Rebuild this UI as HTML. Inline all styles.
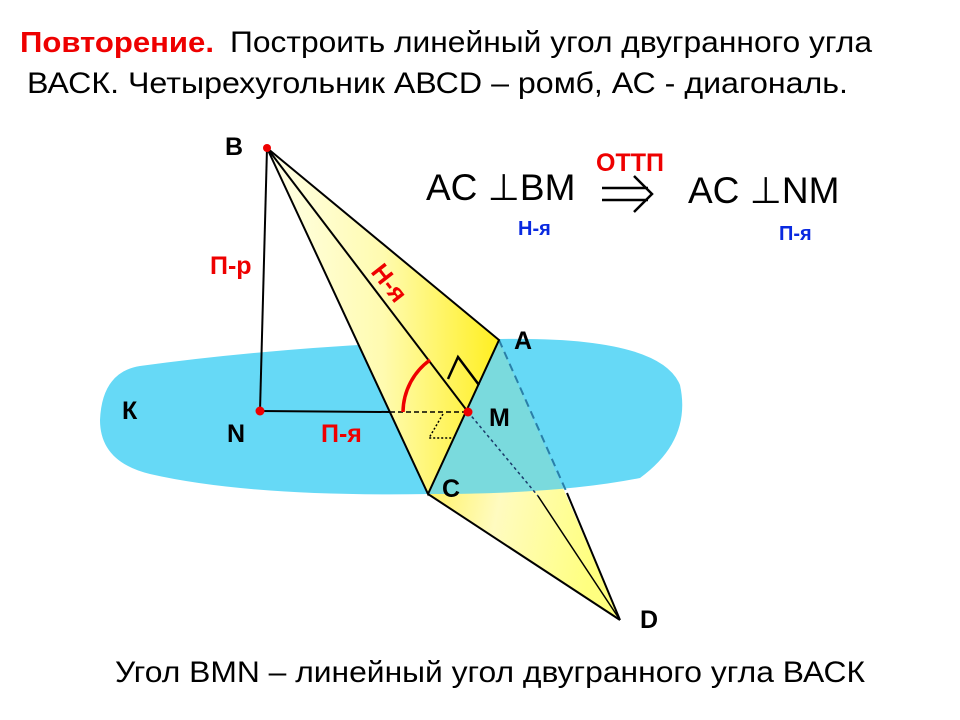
<!DOCTYPE html>
<html><head><meta charset="utf-8"><style>
html,body{margin:0;padding:0;background:#fff}
svg{display:block}
text{font-family:"Liberation Sans",sans-serif}
</style></head><body>
<svg width="960" height="720" viewBox="0 0 960 720">
<defs>
<linearGradient id="g1" x1="0" y1="0" x2="1" y2="0">
<stop offset="0" stop-color="#ffffe8"/><stop offset="0.5" stop-color="#fffbb0"/><stop offset="1" stop-color="#ffef20"/>
</linearGradient>
<linearGradient id="g2" x1="0" y1="0" x2="1" y2="0.3">
<stop offset="0" stop-color="#ffef40"/><stop offset="0.5" stop-color="#fffbc0"/><stop offset="1" stop-color="#ffff80"/>
</linearGradient>
<clipPath id="pl"><path d="M140,366 Q300,344 500,339 Q660,336 680,385 Q692,440 640,478 Q560,494 430,494 Q250,497 150,474 Q100,462 100,420 Q102,372 140,366 Z"/></clipPath>
</defs>
<polygon points="499,340 428,494 620,620" fill="url(#g2)"/>
<path d="M140,366 Q300,344 500,339 Q660,336 680,385 Q692,440 640,478 Q560,494 430,494 Q250,497 150,474 Q100,462 100,420 Q102,372 140,366 Z" fill="#66d9f6"/>
<polygon points="499,340 428,494 620,620" fill="#d8e070" opacity="0.18" clip-path="url(#pl)"/>
<line x1="499" y1="340" x2="567" y2="493" stroke="#2a7fa8" stroke-width="2" stroke-dasharray="8,5"/>
<line x1="567" y1="493" x2="620" y2="620" stroke="#000" stroke-width="2"/>
<line x1="428" y1="494" x2="620" y2="620" stroke="#000" stroke-width="2"/>
<line x1="468" y1="412" x2="538" y2="496" stroke="#1a3a6a" stroke-width="1.5" stroke-dasharray="3,3"/>
<line x1="538" y1="496" x2="620" y2="620" stroke="#000" stroke-width="1.5"/>
<polygon points="267,148 499,340 428,494" fill="url(#g1)" stroke="#000" stroke-width="2"/>
<line x1="267" y1="148" x2="468" y2="412" stroke="#000" stroke-width="2"/>
<line x1="267" y1="148" x2="260" y2="411" stroke="#000" stroke-width="2"/>
<line x1="260" y1="411" x2="390" y2="412" stroke="#000" stroke-width="2"/>
<line x1="390" y1="412" x2="468" y2="412" stroke="#000" stroke-width="1.5" stroke-dasharray="5,3"/>
<polyline points="443,414 429,438 454,438" fill="none" stroke="#000" stroke-width="1.5" stroke-dasharray="2,2"/>
<polyline points="448,379 458,357 479,385" fill="none" stroke="#000" stroke-width="2.5"/>
<path d="M403,412 A65,65 0 0 1 430,360" fill="none" stroke="#e00" stroke-width="3.5"/>
<circle cx="267" cy="148" r="4" fill="#e00"/>
<circle cx="260" cy="411" r="4.5" fill="#e00"/>
<circle cx="468" cy="412" r="4.5" fill="#e00"/>
<g font-weight="bold" font-size="25" fill="#000">
<text x="225" y="155">B</text>
<text x="514" y="349">A</text>
<text x="489" y="426">M</text>
<text x="227" y="442">N</text>
<text x="442" y="497">C</text>
<text x="640" y="628">D</text>
<text x="122" y="419">К</text>
</g>
<g font-weight="bold" font-size="25" fill="#e00">
<text x="210" y="274">П-р</text>
<text x="321" y="442">П-я</text>
<text x="0" y="0" transform="translate(370,272) rotate(52)">Н-я</text>
<text x="596" y="171">ОТТП</text>
</g>
<text x="20" y="52" font-size="29" font-weight="bold" fill="#e00" textLength="194" lengthAdjust="spacingAndGlyphs">Повторение.</text>
<text x="230" y="52" font-size="30" fill="#000" textLength="642" lengthAdjust="spacingAndGlyphs">Построить линейный угол двугранного угла</text>
<text x="27" y="93" font-size="30" fill="#000" textLength="821" lengthAdjust="spacingAndGlyphs">ВАСК.  Четырехугольник АВСD – ромб, АС - диагональ.</text>
<text x="115" y="682" font-size="30" fill="#000" textLength="750" lengthAdjust="spacingAndGlyphs">Угол BMN – линейный угол двугранного угла ВАСК</text>
<g font-size="37" fill="#000">
<text x="426" y="200">AC ⊥BM</text>
<text x="688" y="203">AC ⊥NM</text>
</g>
<g stroke="#000" stroke-width="2.5" fill="none">
<line x1="602" y1="188" x2="648" y2="188"/>
<line x1="602" y1="200" x2="648" y2="200"/>
<polyline points="634,176 652,194 634,212"/>
</g>
<text x="518" y="235" font-size="20" font-weight="bold" fill="#0a2ae0">Н-я</text>
<text x="779" y="240" font-size="20" font-weight="bold" fill="#0a2ae0">П-я</text>
</svg>
</body></html>
